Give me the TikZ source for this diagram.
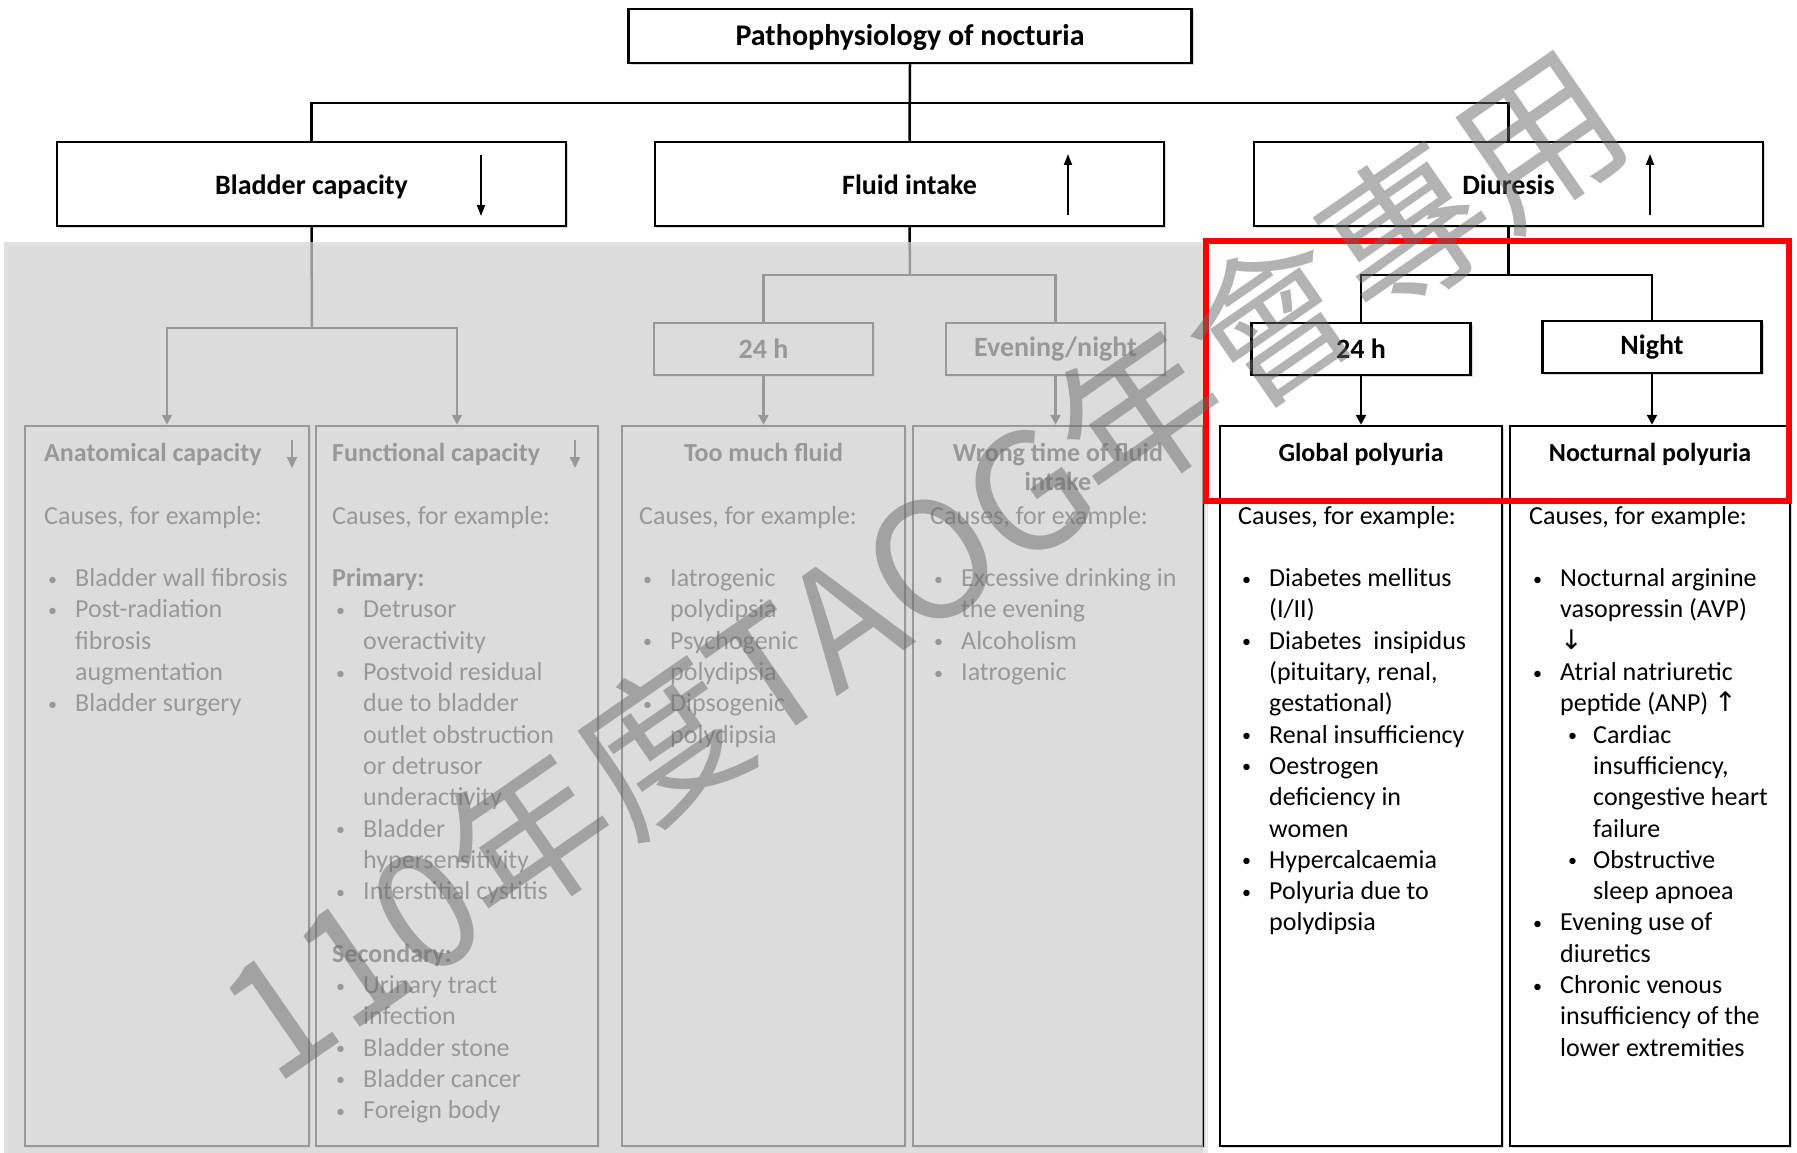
\documentclass[tikz,border=0pt]{standalone}
\usepackage{fontspec}
\setmainfont{Carlito}
\newfontfamily\cjkfont{Noto Sans CJK TC}
\newfontfamily\symfont{DejaVu Sans}
\usetikzlibrary{arrows.meta,shadows}
\definecolor{ovgray}{RGB}{214,214,214}
\definecolor{wmgray}{RGB}{105,105,105}
\definecolor{hlred}{RGB}{255,0,0}
\newcommand\bul{\raisebox{1.5pt}{\fontsize{18}{20}\selectfont\textbullet}}
\newcommand\itm[1]{\hspace*{4pt}\makebox[27pt][l]{\bul}#1}
\newcommand\cnt[1]{\hspace*{31pt}#1}
\newcommand\sitm[1]{\hspace*{39pt}\makebox[25pt][l]{\bul}#1}
\newcommand\scnt[1]{\hspace*{64pt}#1}
\newcommand\emptyln{\mbox{}}
\newcommand\symglyph[1]{{\symfont\fontsize{27}{31}\selectfont #1}}
\tikzset{
  bx/.style={draw=black, line width=2.5pt, fill=white, inner sep=0,
    drop shadow={shadow xshift=2pt, shadow yshift=-2pt, opacity=0.3}},
  conn/.style={line width=2.5pt, draw=black},
  tip/.style={-{Triangle[width=10pt,length=10pt]}},
  symarr/.style={line width=1.8pt, -{Triangle[width=8pt,length=11pt]}},
  hdarr/.style={line width=2.2pt, -{Triangle[width=10pt,length=11pt]}},
  lvtwo/.style={bx, minimum width=509pt, minimum height=84pt,
    text height=20pt, text depth=0pt,
    font=\bfseries\fontsize{28}{34}\selectfont},
  small/.style={bx, minimum width=219pt, minimum height=52pt,
    font=\bfseries\fontsize{28}{34}\selectfont},
  big/.style={bx, minimum height=720pt},
  txt/.style={anchor=base west, inner sep=0},
  hd/.style={inner sep=0, font=\bfseries\fontsize{26}{30}\selectfont},
}
\newcommand\body[1]{\parbox[t]{330pt}{\fontsize{26}{31.3}\selectfont #1}}
\begin{document}
\begin{tikzpicture}[x=1pt,y=-1pt]
\useasboundingbox (0,0) rectangle (1797,1153);
\fill[white] (0,0) rectangle (1797,1153);

% ---- top levels
\node[bx, minimum width=563pt, minimum height=54pt, text height=21pt, text depth=1pt,
  font=\bfseries\fontsize{30}{36}\selectfont] (title) at (910,36) {Pathophysiology of nocturia};
\node[lvtwo] (bladder) at (311.5,184) {Bladder capacity};
\node[lvtwo] (fluid) at (909.5,184) {Fluid intake};
\node[lvtwo] (diur) at (1508.5,184) {Diuresis};
\coordinate (hub) at (910,103);
\draw[conn] (title.south) -- (fluid.north);
\draw[conn] (bladder.north) -- (bladder.north |- hub) -- (diur.north |- hub) -- (diur.north);
\draw[symarr] (481,155) -- (481,216);
\draw[symarr] (1068,215) -- (1068,154);
\draw[symarr] (1650,215) -- (1650,154);

% ---- bladder branch
\node[big, minimum width=284pt] (anat) at (167,786) {};
\node[big, minimum width=282pt] (func) at (457,786) {};
\coordinate (bhub) at (312,328);
\draw[conn] (bladder.south) -- (bhub);
\draw[conn, tip] (bhub) -| (anat.north);
\draw[conn, tip] (bhub) -| (func.north);
\node[hd, anchor=base west] (anath) at (44,461) {Anatomical capacity};
\node[hd, anchor=base west] (funch) at (332,461) {Functional capacity};
\draw[hdarr] (292,440) -- (292,468);
\draw[hdarr] (575,440) -- (575,468);
\node[txt] (anatt) at (44,524) {\body{Causes, for example:\\ \emptyln\\
  \itm{Bladder wall fibrosis}\\ \itm{Post-radiation}\\ \cnt{fibrosis}\\
  \cnt{augmentation}\\ \itm{Bladder surgery}}};
\node[txt] (funct) at (332,524) {\body{Causes, for example:\\ \emptyln\\
  \textbf{Primary:}\\ \itm{Detrusor}\\ \cnt{overactivity}\\
  \itm{Postvoid residual}\\ \cnt{due to bladder}\\ \cnt{outlet obstruction}\\
  \cnt{or detrusor}\\ \cnt{underactivity}\\ \itm{Bladder}\\
  \cnt{hypersensitivity}\\ \itm{Interstitial cystitis}\\ \emptyln\\
  \textbf{Secondary:}\\ \itm{Urinary tract}\\ \cnt{infection}\\
  \itm{Bladder stone}\\ \itm{Bladder cancer}\\ \itm{Foreign body}}};

% ---- fluid branch
\node[small] (fday) at (763.5,349) {24 h};
\node[small] (feve) at (1055.5,349) {Evening/night};
\node[big, minimum width=283pt] (much) at (763.5,786) {};
\node[big, minimum width=290pt] (wrong) at (1058,786) {};
\coordinate (fhub) at (910,275);
\draw[conn] (fluid.south) -- (fhub);
\draw[conn] (fhub) -| (fday.north);
\draw[conn] (fhub) -| (feve.north);
\draw[conn, tip] (fday.south) -- (much.north);
\draw[conn, tip] (feve.south) -- (feve.south |- wrong.north);
\node[hd, anchor=base] (muchh) at (763.5,461) {Too much fluid};
\node[hd, anchor=base] (wrongh) at (1058,461) {\parbox[t]{280pt}{\centering\fontsize{26}{29}\selectfont Wrong time of fluid\\ intake}};
\node[txt] (mucht) at (639,524) {\body{Causes, for example:\\ \emptyln\\
  \itm{Iatrogenic}\\ \cnt{polydipsia}\\ \itm{Psychogenic}\\ \cnt{polydipsia}\\
  \itm{Dipsogenic}\\ \cnt{polydipsia}}};
\node[txt] (wrongt) at (930,524) {\body{Causes, for example:\\ \emptyln\\
  \itm{Excessive drinking in}\\ \cnt{the evening}\\ \itm{Alcoholism}\\
  \itm{Iatrogenic}}};

% ---- grey overlay on the left part
\fill[black, opacity=0.08] (8,245) rectangle (1208,1153);
\fill[ovgray, opacity=0.714] (4,242) rectangle (1203,1153);

% ---- diuresis branch
\node[small] (dday) at (1361,349) {24 h};
\node[small] (dnight) at (1652,347) {Night};
\node[big, minimum width=282pt] (glob) at (1361,786) {};
\node[big, minimum width=280pt] (noct) at (1650,786) {};
\coordinate (dhub) at (1508.5,275);
\draw[conn] (diur.south) -- (dhub);
\draw[conn] (dhub) -| (dday.north);
\draw[conn] (dhub) -| (dnight.north);
\draw[conn, tip] (dday.south) -- (glob.north);
\draw[conn, tip] (dnight.south) -- (dnight.south |- noct.north);
\node[hd, anchor=base] (globh) at (1361,461) {Global polyuria};
\node[hd, anchor=base] (nocth) at (1650,461) {Nocturnal polyuria};
\node[txt] (globt) at (1238,524) {\body{Causes, for example:\\ \emptyln\\
  \itm{Diabetes mellitus}\\ \cnt{(I/II)}\\ \itm{Diabetes\ \ insipidus}\\
  \cnt{(pituitary, renal,}\\ \cnt{gestational)}\\ \itm{Renal insufficiency}\\
  \itm{Oestrogen}\\ \cnt{deficiency in}\\ \cnt{women}\\ \itm{Hypercalcaemia}\\
  \itm{Polyuria due to}\\ \cnt{polydipsia}}};
\node[txt] (noctt) at (1529,524) {\body{Causes, for example:\\ \emptyln\\
  \itm{Nocturnal arginine}\\ \cnt{vasopressin (AVP)}\\ \cnt{\symglyph{↓}}\\
  \itm{Atrial natriuretic}\\ \cnt{peptide (ANP) \symglyph{↑}}\\
  \sitm{Cardiac}\\ \scnt{insufficiency,}\\ \scnt{congestive heart}\\ \scnt{failure}\\
  \sitm{Obstructive}\\ \scnt{sleep apnoea}\\ \itm{Evening use of}\\ \cnt{diuretics}\\
  \itm{Chronic venous}\\ \cnt{insufficiency of the}\\ \cnt{lower extremities}}};

% ---- highlight frame
\draw[hlred, line width=6pt] (1206,241) rectangle (1789,501);

% ---- watermark
\node[rotate=34.7, text=wmgray, text opacity=0.5, inner sep=0,
  font=\cjkfont\fontsize{162}{162}\selectfont] (wm) at (922,564) {110年度TAOG年會專用};
\end{tikzpicture}
\end{document}
